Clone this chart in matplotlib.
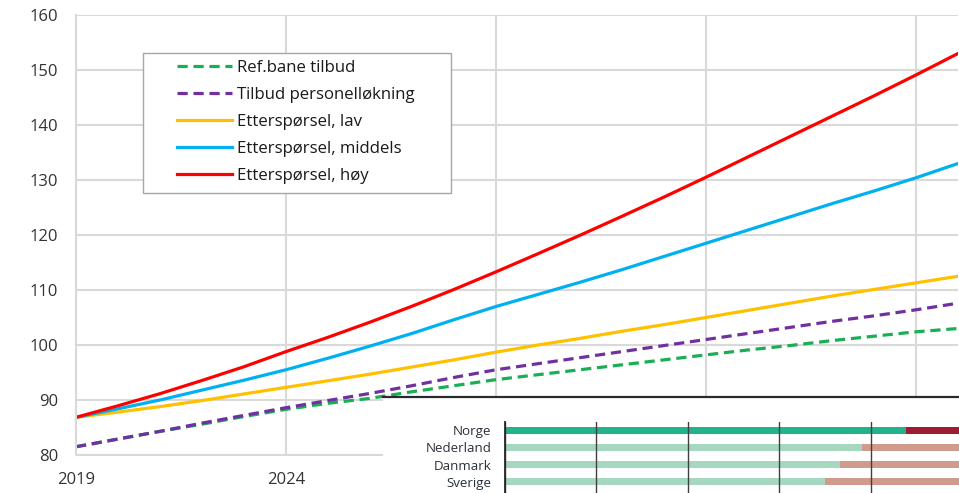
import matplotlib
matplotlib.use("Agg")
import matplotlib.pyplot as plt
from matplotlib.patches import Rectangle

plt.rcParams['font.family'] = ['Open Sans', 'DejaVu Sans']

years = list(range(2019, 2041))
ref_tilbud = [81.5, 82.9, 84.3, 85.6, 87.0, 88.3, 89.4, 90.3, 91.5, 92.6, 93.7,
              94.6, 95.5, 96.4, 97.3, 98.2, 99.1, 99.9, 100.8, 101.6, 102.4, 103.0]
tilbud_pers = [81.5, 82.9, 84.3, 85.8, 87.2, 88.6, 89.9, 91.2, 92.6, 94.1, 95.5,
               96.6, 97.7, 98.8, 99.9, 101.0, 102.1, 103.2, 104.3, 105.3, 106.4, 107.6]
ett_lav = [86.85, 87.8, 88.8, 89.9, 91.1, 92.3, 93.5, 94.7, 96.0, 97.3, 98.7,
           100.0, 101.2, 102.5, 103.7, 105.0, 106.3, 107.6, 108.9, 110.1, 111.3, 112.5]
ett_middels = [86.85, 88.4, 90.0, 91.8, 93.6, 95.5, 97.6, 99.8, 102.1, 104.6, 107.0,
               109.2, 111.4, 113.7, 116.1, 118.5, 120.9, 123.3, 125.7, 128.0, 130.4, 133.0]
ett_hoy = [86.85, 88.95, 91.15, 93.55, 96.05, 98.8, 101.4, 104.15, 107.05, 110.1, 113.3,
           116.6, 119.95, 123.4, 126.9, 130.5, 134.2, 137.9, 141.6, 145.3, 149.1, 153.0]

series_labels = ["Ref.bane tilbud", "Tilbud personelløkning", "Etterspørsel, lav",
                 "Etterspørsel, middels", "Etterspørsel, høy"]
x_ticks = [2019, 2024, 2029, 2034, 2039]
y_ticks = [80, 90, 100, 110, 120, 130, 140, 150, 160]

countries = ["Norge", "Nederland", "Danmark", "Sverige", "Finland"]
share_a = [87.7, 78.2, 73.2, 70.0, 72.0]
share_b = [100 - v for v in share_a]

W, H = 959, 493
fig = plt.figure(figsize=(W / 100, H / 100), dpi=100)

def fx(px):
    return px / W

def fy(py):
    return 1 - py / H

# main axes
x0, x1 = 76, 958
yt, yb = 15, 455
ax = fig.add_axes([fx(x0), fy(yb), fx(x1) - fx(x0), fy(yt) - fy(yb)])
ax.set_xlim(2019, 2040)
ax.set_ylim(80, 160)
ax.set_xticks(x_ticks)
ax.set_yticks(y_ticks)
grid_c = '#d9d9d9'
ax.grid(True, color=grid_c, linewidth=1.5)
ax.set_axisbelow(True)
for s in ['top', 'right']:
    ax.spines[s].set_visible(False)
for s in ['left', 'bottom']:
    ax.spines[s].set_color(grid_c)
    ax.spines[s].set_linewidth(1.5)
ax.tick_params(axis='both', length=0, labelsize=12, colors='#333333')
ax.tick_params(axis='y', pad=13)
ax.tick_params(axis='x', pad=12)

lw = 2.3
dash = (3.2, 1.8)
ax.plot(years, ref_tilbud, color='#1aaf54', lw=lw, dashes=dash, label=series_labels[0])
ax.plot(years, tilbud_pers, color='#7030a0', lw=lw, dashes=dash, label=series_labels[1])
ax.plot(years, ett_lav, color='#ffc000', lw=lw, label=series_labels[2])
ax.plot(years, ett_middels, color='#00b0f0', lw=lw, label=series_labels[3])
ax.plot(years, ett_hoy, color='#ff0000', lw=lw, label=series_labels[4])

# legend frame
lx0, lx1, ly0, ly1 = 143, 451, 53, 193
ax.add_patch(Rectangle((fx(lx0), fy(ly1)), fx(lx1) - fx(lx0), fy(ly0) - fy(ly1),
                       transform=fig.transFigure, facecolor='white', edgecolor='#a6a6a6',
                       linewidth=1.0, zorder=5, clip_on=False))
leg = ax.legend(loc='upper left', bbox_to_anchor=(fx(177), fy(59.5)),
                bbox_transform=fig.transFigure, frameon=False, fontsize=12.1,
                handlelength=3.25, handletextpad=0.3, labelspacing=0.66,
                borderpad=0, borderaxespad=0)
leg.set_zorder(6)
for t in leg.get_texts():
    t.set_color('#1a1a1a')

# inset cover
cx0, cy0 = 383, 397
cover = fig.add_axes([fx(cx0), 0, 1 - fx(cx0), fy(cy0)])
cover.set_facecolor('white')
cover.set_xticks([])
cover.set_yticks([])
for s in ['left', 'right', 'bottom']:
    cover.spines[s].set_visible(False)
cover.spines['top'].set_color('#2b2b2b')
cover.spines['top'].set_linewidth(1.6)

# inset bar chart
bx0, bx100 = 504.8, 962.2
btop = 422
unit = 17.0
bax = fig.add_axes([fx(bx0), fy(btop + 5 * unit), fx(bx100) - fx(bx0), 5 * unit / H])
bax.set_xlim(0, 100)
bax.set_ylim(4.5, -0.5)
bax.set_facecolor('none')
ypos = list(range(len(countries)))
col_a = ['#22b38a'] + ['#a6d8c0'] * (len(countries) - 1)
col_b = ['#9e1b32'] + ['#d09a8c'] * (len(countries) - 1)
bax.barh(ypos, share_a, height=0.43, color=col_a, zorder=1)
bax.barh(ypos, share_b, left=share_a, height=0.43, color=col_b, zorder=1)
bax.set_xticks([0, 20, 40, 60, 80, 100])
bax.set_xticklabels([])
bax.set_yticks(ypos)
bax.set_yticklabels(countries)
bax.grid(True, axis='x', color='#404040', linewidth=1.0)
bax.set_axisbelow(False)
for l in bax.get_xgridlines():
    l.set_zorder(2)
for s in ['top', 'right', 'bottom']:
    bax.spines[s].set_visible(False)
bax.spines['left'].set_color('#262626')
bax.spines['left'].set_linewidth(1.3)
bax.spines['left'].set_zorder(3)
bax.tick_params(axis='both', length=0)
bax.tick_params(axis='y', pad=9.5, labelsize=9.6, colors='#2a303a')

fig.savefig('out.png', dpi=100)
